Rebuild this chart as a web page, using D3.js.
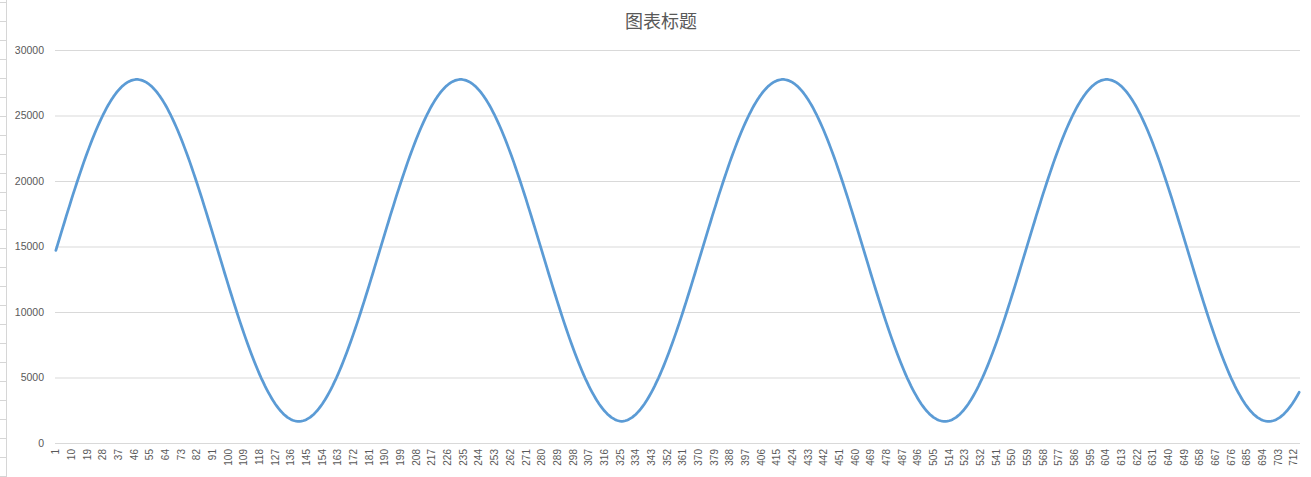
<!DOCTYPE html>
<html><head><meta charset="utf-8">
<script src="https://cdn.jsdelivr.net/npm/d3@7"></script>
<style>html,body{margin:0;padding:0;background:#fff;overflow:hidden}</style>
</head><body><svg id="chart" width="1311" height="477"></svg>
<script>
const title = "图表标题";
const categories = d3.range(1, 716);
const values = [
14700,15140,15580,16020,16460,16890,17330,17760,18180,18610,19030,19440,19850,20250,20640,21030,21420,21790,22160,22510,22860,23200,23530,23850,24160,24460,24740,25020,25280,25540,25780,26000,26220,26420,26600,26780,26940,27080,27220,27330,27440,27530,27600,27660,27700,27730,27750,
27750,27730,27700,27660,27600,27530,27440,27330,27220,27080,26940,26780,26600,26420,26220,26000,25780,25540,25280,25020,24740,24460,24160,23850,23530,23200,22860,22510,22160,21790,21420,21030,20640,20250,19850,19440,19030,18610,18180,17760,17330,16890,16460,16020,15580,15140,14700,
14260,13820,13380,12940,12510,12070,11640,11220,10790,10380,9960,9550,9150,8760,8370,7990,7610,7250,6890,6540,6200,5870,5550,5240,4940,4660,4380,4120,3870,3630,3400,3180,2980,2800,2620,2460,2320,2180,2070,1960,1880,1800,1740,1700,1670,1650,1650,
1670,1700,1740,1800,1880,1960,2070,2180,2320,2460,2620,2800,2980,3180,3400,3630,3870,4120,4380,4660,4940,5240,5550,5870,6200,6540,6890,7250,7610,7990,8370,8760,9150,9550,9960,10380,10790,11220,11640,12070,12510,12940,13380,13820,14260,
14700,15140,15580,16020,16460,16890,17330,17760,18180,18610,19030,19440,19850,20250,20640,21030,21420,21790,22160,22510,22860,23200,23530,23850,24160,24460,24740,25020,25280,25540,25780,26000,26220,26420,26600,26780,26940,27080,27220,27330,27440,27530,27600,27660,27700,27730,27750,
27750,27730,27700,27660,27600,27530,27440,27330,27220,27080,26940,26780,26600,26420,26220,26000,25780,25540,25280,25020,24740,24460,24160,23850,23530,23200,22860,22510,22160,21790,21420,21030,20640,20250,19850,19440,19030,18610,18180,17760,17330,16890,16460,16020,15580,15140,14700,
14260,13820,13380,12940,12510,12070,11640,11220,10790,10380,9960,9550,9150,8760,8370,7990,7610,7250,6890,6540,6200,5870,5550,5240,4940,4660,4380,4120,3870,3630,3400,3180,2980,2800,2620,2460,2320,2180,2070,1960,1880,1800,1740,1700,1670,1650,
1670,1700,1740,1800,1880,1960,2070,2180,2320,2460,2620,2800,2980,3180,3400,3630,3870,4120,4380,4660,4940,5240,5550,5870,6200,6540,6890,7250,7610,7990,8370,8760,9150,9550,9960,10380,10790,11220,11640,12070,12510,12940,13380,13820,14260,
14700,15140,15580,16020,16460,16890,17330,17760,18180,18610,19030,19440,19850,20250,20640,21030,21420,21790,22160,22510,22860,23200,23530,23850,24160,24460,24740,25020,25280,25540,25780,26000,26220,26420,26600,26780,26940,27080,27220,27330,27440,27530,27600,27660,27700,27730,27750,
27750,27730,27700,27660,27600,27530,27440,27330,27220,27080,26940,26780,26600,26420,26220,26000,25780,25540,25280,25020,24740,24460,24160,23850,23530,23200,22860,22510,22160,21790,21420,21030,20640,20250,19850,19440,19030,18610,18180,17760,17330,16890,16460,16020,15580,15140,14700,
14260,13820,13380,12940,12510,12070,11640,11220,10790,10380,9960,9550,9150,8760,8370,7990,7610,7250,6890,6540,6200,5870,5550,5240,4940,4660,4380,4120,3870,3630,3400,3180,2980,2800,2620,2460,2320,2180,2070,1960,1880,1800,1740,1700,1670,1650,1650,
1670,1700,1740,1800,1880,1960,2070,2180,2320,2460,2620,2800,2980,3180,3400,3630,3870,4120,4380,4660,4940,5240,5550,5870,6200,6540,6890,7250,7610,7990,8370,8760,9150,9550,9960,10380,10790,11220,11640,12070,12510,12940,13380,13820,14260,
14700,15140,15580,16020,16460,16890,17330,17760,18180,18610,19030,19440,19850,20250,20640,21030,21420,21790,22160,22510,22860,23200,23530,23850,24160,24460,24740,25020,25280,25540,25780,26000,26220,26420,26600,26780,26940,27080,27220,27330,27440,27530,27600,27660,27700,27730,27750,
27750,27730,27700,27660,27600,27530,27440,27330,27220,27080,26940,26780,26600,26420,26220,26000,25780,25540,25280,25020,24740,24460,24160,23850,23530,23200,22860,22510,22160,21790,21420,21030,20640,20250,19850,19440,19030,18610,18180,17760,17330,16890,16460,16020,15580,15140,14700,
14260,13820,13380,12940,12510,12070,11640,11220,10790,10380,9960,9550,9150,8760,8370,7990,7610,7250,6890,6540,6200,5870,5550,5240,4940,4660,4380,4120,3870,3630,3400,3180,2980,2800,2620,2460,2320,2180,2070,1960,1880,1800,1740,1700,1670,1650,1650,
1670,1700,1740,1800,1880,1960,2070,2180,2320,2460,2620,2800,2980,3180,3400,3630,3870
];
const yTicks = [0, 5000, 10000, 15000, 20000, 25000, 30000];
const xTickLabels = d3.range(1, 716, 9);

const svg = d3.select("#chart");

// spreadsheet row-header edge at far left
const deco = svg.append("g").attr("stroke", "#d6d6d6").attr("stroke-width", 1);
deco.append("line").attr("x1", 6.5).attr("x2", 6.5).attr("y1", 0).attr("y2", 477);
deco.selectAll("line.row").data(d3.range(0, 26)).join("line").attr("class", "row")
  .attr("x1", 0).attr("x2", 6).attr("y1", d => Math.round(1.7 + 18.98 * d) + 0.5).attr("y2", d => Math.round(1.7 + 18.98 * d) + 0.5);

const x = d3.scalePoint().domain(categories).range([55, 1300]).padding(0.5);
const y = d3.scaleLinear().domain([0, 30000]).range([443, 50]);

// y axis + gridlines
const yAxis = svg.append("g").attr("transform", "translate(55,0)")
  .call(d3.axisLeft(y).tickValues(yTicks).tickSize(-1245).tickPadding(11).tickFormat(d3.format("d")));
yAxis.select(".domain").remove();
yAxis.selectAll(".tick line").attr("stroke", "#d9d9d9");
yAxis.selectAll(".tick text").attr("fill", "#595959").style("font-family", "'Liberation Sans', Arial, sans-serif").style("font-size", "10.5px");

// x labels
svg.append("g").selectAll("text").data(xTickLabels).join("text")
  .attr("transform", d => `translate(${x(d)},449) rotate(-90)`)
  .attr("text-anchor", "end").attr("dy", "0.35em")
  .attr("fill", "#595959").style("font-family", "'Liberation Sans', Arial, sans-serif").style("font-size", "10px")
  .text(d => d);

// line
const line = d3.line().x((d, i) => x(categories[i])).y(d => y(d));
svg.append("path").datum(values).attr("d", line)
  .attr("fill", "none").attr("stroke", "#5b9bd5").attr("stroke-width", 2.75)
  .attr("stroke-linejoin", "round").attr("stroke-linecap", "round");

// title
svg.append("text").attr("x", 661).attr("y", 28).attr("text-anchor", "middle")
  .attr("fill", "#595959").style("font-family", "'Noto Sans CJK SC', sans-serif").style("font-size", "18px")
  .text(title);
</script></body></html>
